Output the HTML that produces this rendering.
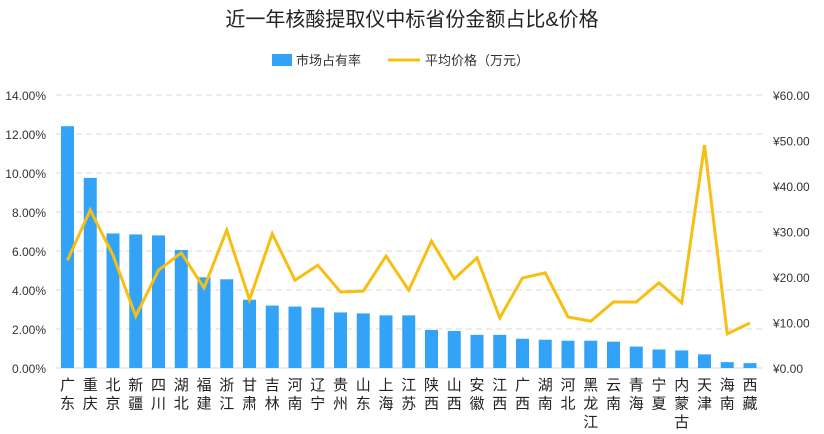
<!DOCTYPE html>
<html><head><meta charset="utf-8"><style>
body{margin:0;background:#fff;}
svg text{font-family:"Liberation Sans","Noto Sans CJK SC",sans-serif;}
</style></head><body>
<svg width="824" height="429" xmlns="http://www.w3.org/2000/svg">
<text x="412" y="26" text-anchor="middle" font-size="20" fill="#222">近一年核酸提取仪中标省份金额占比&amp;价格</text>
<rect x="272" y="54" width="20" height="12" fill="#33a3f7"/>
<text x="296" y="65" font-size="13" fill="#333">市场占有率</text>
<line x1="388" y1="60" x2="420" y2="60" stroke="#f7bf12" stroke-width="3"/>
<text x="425" y="65" font-size="13" fill="#333">平均价格（万元）</text>
<g id="g"></g>
</svg>
<script>
const ns="http://www.w3.org/2000/svg",g=document.getElementById('g');
function el(t,a,txt){const e=document.createElementNS(ns,t);for(const k in a)e.setAttribute(k,a[k]);if(txt!=null)e.textContent=txt;g.appendChild(e);return e;}
const y0=368,step=39;
for(let i=0;i<=7;i++){const y=y0-i*step;
 if(i>0)el('line',{x1:56,x2:762,y1:y,y2:y,stroke:'#d9d9d9','stroke-dasharray':'6,4','stroke-width':1});
 el('text',{x:46,y:y+5,'text-anchor':'end','font-size':12,fill:'#333'},(i*2).toFixed(2)+'%');
 if(i<7&&i>=0){}
}
for(let i=0;i<=6;i++){const y=y0-i*10*(7*step/60);
 el('text',{x:773,y:y+5,'font-size':12,fill:'#333'},'¥'+(i*10).toFixed(2));}
el('line',{x1:56,x2:762,y1:y0,y2:y0,stroke:'#d9d9d9'});
const names=['广东','重庆','北京','新疆','四川','湖北','福建','浙江','甘肃','吉林','河南','辽宁','贵州','山东','上海','江苏','陕西','山西','安徽','江西','广西','湖南','河北','黑龙江','云南','青海','宁夏','内蒙古','天津','海南','西藏'];
const bars=[12.4,9.75,6.9,6.85,6.8,6.05,4.65,4.55,3.5,3.2,3.15,3.1,2.85,2.8,2.7,2.7,1.95,1.9,1.7,1.7,1.5,1.45,1.4,1.4,1.35,1.1,0.95,0.9,0.7,0.3,0.25];
const price=[23.7,34.7,24.8,11.4,21.5,25.3,17.6,30.3,15,29.5,19.3,22.6,16.7,16.9,24.6,17.1,27.9,19.6,24.2,11,19.8,20.9,11.2,10.3,14.5,14.5,18.7,14.3,49,7.5,9.9];
let pts=[];
names.forEach((n,i)=>{const cx=67.5+i*22.75;const h=bars[i]*step/2;
 el('rect',{x:cx-6.5,y:y0-h,width:13,height:h,fill:'#33a3f7'});
 [...n].forEach((c,j)=>el('text',{x:cx,y:390+j*18.5,'text-anchor':'middle','font-size':15,fill:'#222'},c));
 pts.push(cx+','+(y0-price[i]*7*step/60).toFixed(1));});
el('polyline',{points:pts.join(' '),fill:'none',stroke:'#f7bf12','stroke-width':3,'stroke-linejoin':'miter'});
</script>
</body></html>
